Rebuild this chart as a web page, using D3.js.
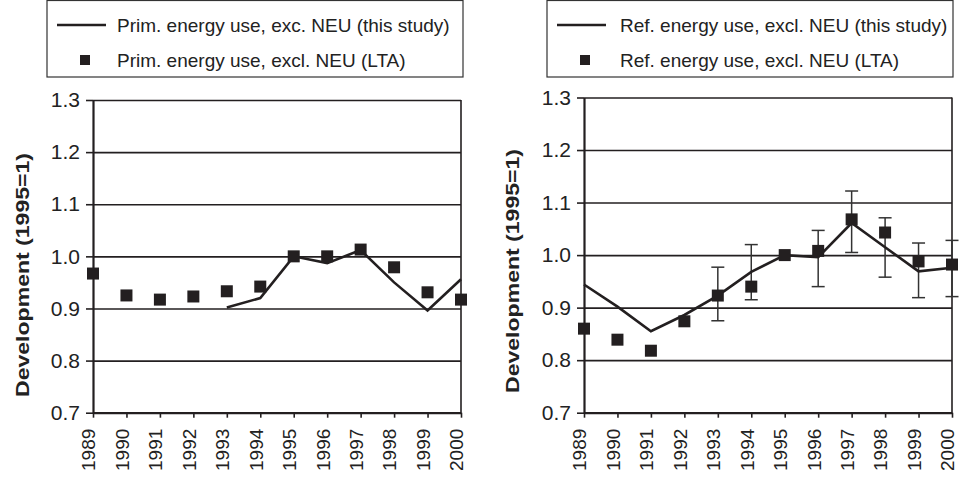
<!DOCTYPE html>
<html>
<head>
<meta charset="utf-8">
<script src="https://cdn.jsdelivr.net/npm/d3@7"></script>
<style>
  body { margin: 0; background: #fff; }
  svg { display: block; font-family: "Liberation Sans", Arial, sans-serif; }
</style>
</head>
<body>
<div id="vis"></div>
<script>
//data----
const years = [1989, 1990, 1991, 1992, 1993, 1994, 1995, 1996, 1997, 1998, 1999, 2000]
const yTicks = [0.7, 0.8, 0.9, 1.0, 1.1, 1.2, 1.3]

// left panel: primary energy use
const primStudy = [null, null, null, null, 0.902, 0.920, 1.000, 0.987, 1.012, 0.950, 0.896, 0.956]
const primLTA = [0.967, 0.925, 0.917, 0.923, 0.933, 0.942, 1.000, 1.000, 1.013, 0.979, 0.931, 0.917]

// right panel: refinery energy use
const refStudy = [0.944, 0.902, 0.855, 0.886, 0.923, 0.968, 1.000, 0.996, 1.061, 1.015, 0.969, 0.976]
const refLTA = [0.860, 0.839, 0.818, 0.874, 0.923, 0.940, 1.000, 1.008, 1.068, 1.043, 0.988, 0.982]
const refLow = [null, null, null, null, 0.875, 0.915, null, 0.940, 1.005, 0.958, 0.919, 0.921]
const refHigh = [null, null, null, null, 0.977, 1.020, null, 1.047, 1.122, 1.071, 1.023, 1.028]

const yLabel = "Development (1995=1)"

//canvas----
const width = 960
const height = 477
const ink = "#231f20"

const svg = d3.select("#vis")
    .append("svg")
    .attr("width", width)
    .attr("height", height)

//one panel----
function drawPanel(p){
    const x = d3.scalePoint()
        .domain(years)
        .range([p.left, p.right])

    const y = d3.scaleLinear()
        .domain([0.7, 1.3])
        .range([p.bottom, p.top])

    const g = svg.append("g")

    // gridlines
    g.append("g")
        .attr("transform", `translate(${p.left},0)`)
        .call(d3.axisLeft(y).tickValues(yTicks.slice(1)).tickSize(-(p.right - p.left)).tickFormat(""))
        .call(s => s.select(".domain").remove())
        .selectAll("line")
            .attr("stroke", ink)
            .attr("stroke-width", 1.6)

    // right border
    g.append("line")
        .attr("x1", p.right).attr("x2", p.right)
        .attr("y1", y(1.3)).attr("y2", y(0.7))
        .attr("stroke", ink)
        .attr("stroke-width", 1.6)

    // y axis
    const yAxis = g.append("g")
        .attr("transform", `translate(${p.left},0)`)
        .call(d3.axisLeft(y).tickValues(yTicks).tickFormat(d3.format(".1f")).tickSize(7).tickSizeOuter(0).tickPadding(6))
    yAxis.select(".domain").attr("stroke", ink).attr("stroke-width", 2.2)
    yAxis.selectAll(".tick line").attr("stroke", ink).attr("stroke-width", 1.6)
    yAxis.selectAll("text")
        .attr("fill", "#222")
        .style("font-size", "21px")

    // x axis
    const xAxis = g.append("g")
        .attr("transform", `translate(0,${p.bottom})`)
        .call(d3.axisBottom(x).tickSize(5).tickSizeOuter(0))
    xAxis.select(".domain").attr("stroke", ink).attr("stroke-width", 2.2)
    xAxis.selectAll(".tick line").attr("stroke", ink).attr("stroke-width", 1.6)
    xAxis.selectAll("text")
        .attr("fill", "#222")
        .style("font-size", "19px")
        .attr("transform", "rotate(-90)")
        .attr("text-anchor", "end")
        .attr("x", -16)
        .attr("y", 0)
        .attr("dy", "0.1em")

    // y axis label
    g.append("text")
        .attr("transform", `translate(${p.labelX},${p.labelY}) rotate(-90)`)
        .attr("text-anchor", "middle")
        .attr("font-weight", "bold")
        .attr("fill", "#222")
        .style("font-size", "19px")
        .attr("textLength", 244)
        .attr("lengthAdjust", "spacingAndGlyphs")
        .attr("dy", "0.35em")
        .text(yLabel)

    // error bars
    if(p.low){
        const bars = g.append("g")
            .selectAll("g")
            .data(years.map((yr, i) => ({yr, lo: p.low[i], hi: p.high[i]})).filter(d => d.lo != null))
            .enter().append("g")
            .attr("stroke", "#333")
            .attr("stroke-width", 1.5)
        bars.append("line")
            .attr("x1", d => x(d.yr)).attr("x2", d => x(d.yr))
            .attr("y1", d => y(d.lo)).attr("y2", d => y(d.hi))
        bars.append("line")
            .attr("x1", d => x(d.yr) - 6.5).attr("x2", d => x(d.yr) + 6.5)
            .attr("y1", d => y(d.lo)).attr("y2", d => y(d.lo))
        bars.append("line")
            .attr("x1", d => x(d.yr) - 6.5).attr("x2", d => x(d.yr) + 6.5)
            .attr("y1", d => y(d.hi)).attr("y2", d => y(d.hi))
    }

    // study line
    const line = d3.line()
        .defined(d => d[1] != null)
        .x(d => x(d[0]))
        .y(d => y(d[1]))
    g.append("path")
        .datum(years.map((yr, i) => [yr, p.study[i]]))
        .attr("d", line)
        .attr("fill", "none")
        .attr("stroke", ink)
        .attr("stroke-width", 2.6)

    // LTA squares
    g.append("g")
        .selectAll("rect")
        .data(years.map((yr, i) => [yr, p.lta[i]]))
        .enter().append("rect")
            .attr("x", d => x(d[0]) - 6)
            .attr("y", d => y(d[1]) - 6)
            .attr("width", 12)
            .attr("height", 12)
            .attr("fill", ink)

    // legend
    const lg = g.append("g")
    lg.append("rect")
        .attr("x", p.legX).attr("y", 0.5)
        .attr("width", p.legW).attr("height", 76.5)
        .attr("fill", "#fff")
        .attr("stroke", "#333")
        .attr("stroke-width", 1.2)
    lg.append("line")
        .attr("x1", p.legX + 10).attr("x2", p.legX + 59)
        .attr("y1", 25).attr("y2", 25)
        .attr("stroke", ink)
        .attr("stroke-width", 2.6)
    lg.append("rect")
        .attr("x", p.legX + 33).attr("y", 55)
        .attr("width", 10).attr("height", 10)
        .attr("fill", ink)
    lg.selectAll("text")
        .data(p.legend)
        .enter().append("text")
            .attr("x", p.legX + p.textOff)
            .attr("y", (d, i) => 32 + i * 35)
            .attr("fill", "#222")
            .style("font-size", "19px")
            .text(d => d)
}

drawPanel({
    left: 93, right: 461, top: 100, bottom: 412.7,
    labelX: 22, labelY: 275,
    legX: 47, legW: 416, textOff: 70,
    study: primStudy, lta: primLTA,
    legend: ["Prim. energy use, exc. NEU (this study)", "Prim. energy use, excl. NEU (LTA)"]
})

drawPanel({
    left: 584, right: 952, top: 97.5, bottom: 412.7,
    labelX: 512, labelY: 271,
    legX: 547, legW: 406, textOff: 73,
    study: refStudy, lta: refLTA, low: refLow, high: refHigh,
    legend: ["Ref. energy use, excl. NEU (this study)", "Ref. energy use, excl. NEU (LTA)"]
})
</script>
</body>
</html>
